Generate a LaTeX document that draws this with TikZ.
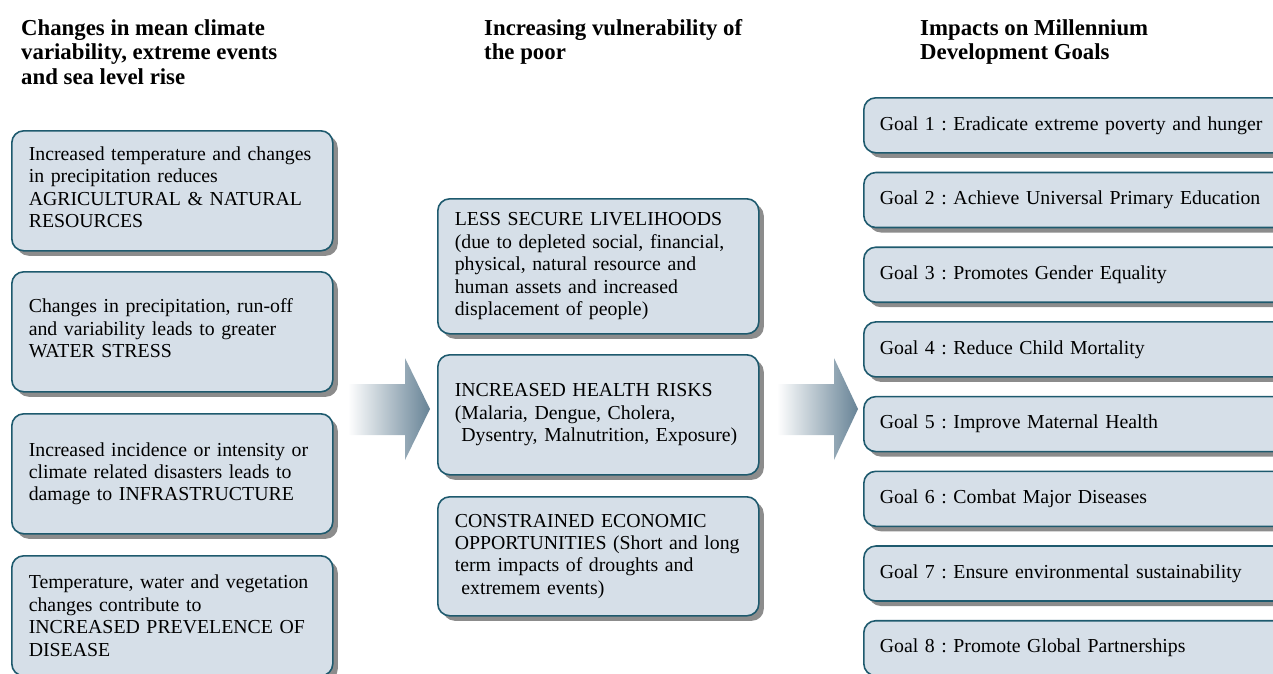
\documentclass[tikz,border=0pt]{standalone}
\usepackage{fontspec}
\setmainfont{Liberation Serif}
\usepackage{xcolor}
\usetikzlibrary{shadows}
\definecolor{boxfill}{HTML}{D6DFE8}
\definecolor{boxline}{HTML}{1E5A6E}
\definecolor{arrowblue}{HTML}{678396}
\frenchspacing

\begin{document}
\begin{tikzpicture}[x=1pt,y=-1pt,
	head/.style={anchor=north west, align=left, inner sep=0pt, font=\bfseries\fontsize{22.8}{24.6}\selectfont},
	main box/.style={anchor=north west, draw=boxline, line width=1.6pt, fill=boxfill, rounded corners=12pt,
		drop shadow={shadow xshift=5pt, shadow yshift=-5pt, fill=black!45, opacity=1},
		inner xsep=17pt, text width=287pt, align=left, font=\fontsize{19.8}{22.4}\selectfont},
	raised/.style={execute at end node={\vspace{7pt}}},
	goal box/.style={main box, minimum height=55pt, text width=400pt, inner xsep=16pt},
	fat arrow/.style={shading=axis, left color=white, right color=arrowblue, draw=none}]
	\useasboundingbox (0,0) rectangle (1273,673);
	\clip (0,0) rectangle (1273,673);
	
	% Headings
	\node [head] (h1) at (21,19) {Changes in mean climate\\variability, extreme events\\and sea level rise};
	\node [head] (h2) at (484,19) {Increasing vulnerability of\\the poor};
	\node [head] (h3) at (920,19) {Impacts on Millennium\\Development Goals};
	
	% Nodes
	\node [main box, raised, minimum height=120pt] (1) at (11,130) {Increased temperature and changes\\in precipitation reduces\\AGRICULTURAL \& NATURAL\\RESOURCES};
	\node [main box, raised, minimum height=120pt] (2) at (11,271) {Changes in precipitation, run-off\\and variability leads to greater\\WATER STRESS};
	\node [main box, minimum height=120pt] (3) at (11,413) {Increased incidence or intensity or\\climate related disasters leads to\\damage to INFRASTRUCTURE};
	\node [main box, minimum height=120pt] (4) at (11,555) {Temperature, water and vegetation\\changes contribute to\\INCREASED PREVELENCE OF\\DISEASE};
	
	\node [main box, minimum height=135pt] (5) at (437,198) {LESS SECURE LIVELIHOODS\\(due to depleted social, financial,\\physical, natural resource and\\human assets and increased\\displacement of people)};
	\node [main box, minimum height=120pt] (6) at (437,354) {INCREASED HEALTH RISKS\\(Malaria, Dengue, Cholera,\\\ Dysentry, Malnutrition, Exposure)};
	\node [main box, minimum height=119pt] (7) at (437,496) {CONSTRAINED ECONOMIC\\OPPORTUNITIES (Short and long\\term impacts of droughts and\\\ extremem events)};
	
	\foreach \n/\goal [count=\i from 0] in {1/Eradicate extreme poverty and hunger,
		2/Achieve Universal Primary Education, 3/Promotes Gender Equality,
		4/Reduce Child Mortality, 5/Improve Maternal Health, 6/Combat Major Diseases,
		7/Ensure environmental sustainability, 8/Promote Global Partnerships}
		\node [goal box] (g\n) at (863,97+74.7*\i) {Goal \n{} : \goal};
	
	% Arrows
	\path [fat arrow] (348,384) -- (405,384) -- (405,358) -- (430,409) -- (405,460) -- (405,435) -- (348,435) -- cycle;
	\path [fat arrow] (777,384) -- (834,384) -- (834,358) -- (858,409) -- (834,460) -- (834,435) -- (777,435) -- cycle;
	
\end{tikzpicture}
\end{document}
